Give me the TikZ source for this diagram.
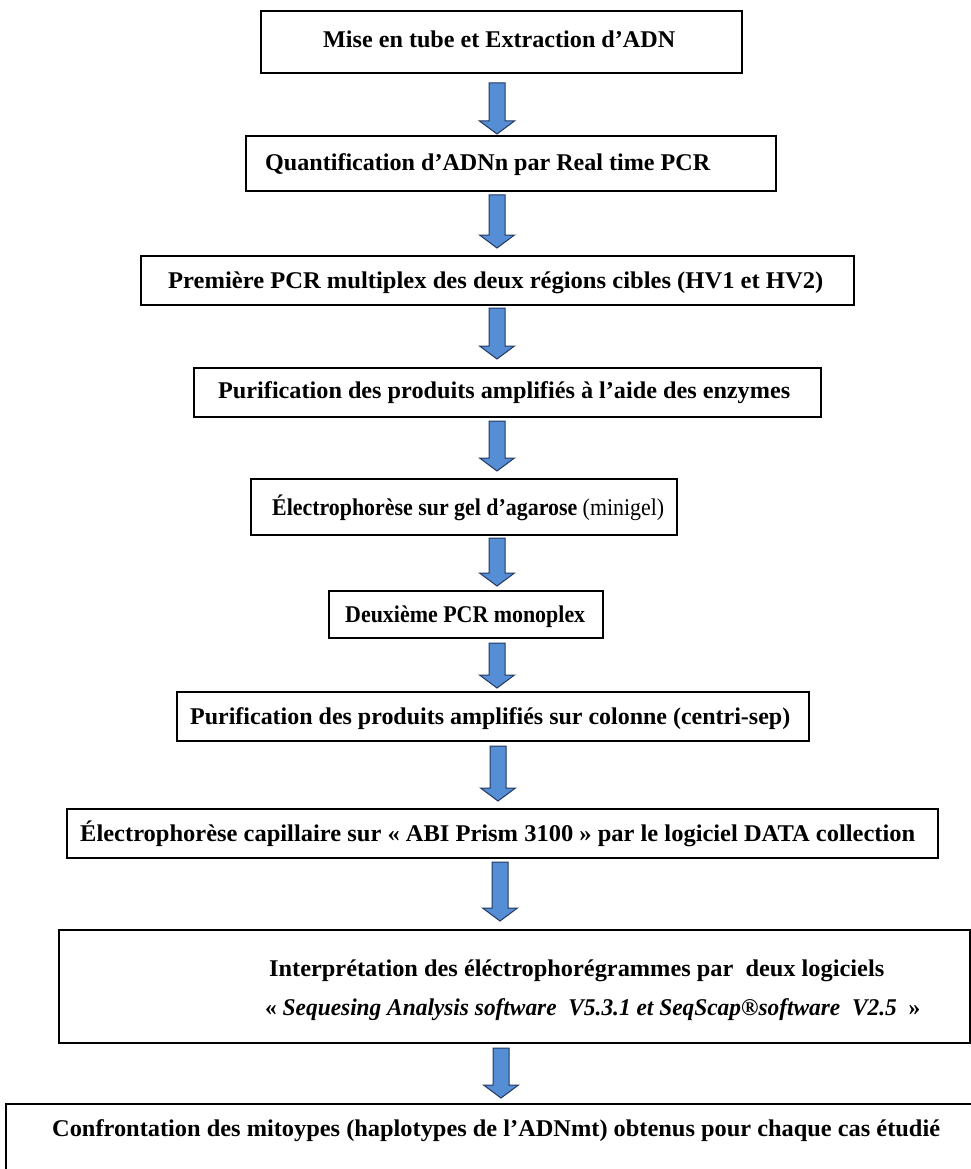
\documentclass[tikz,border=0pt]{standalone}
\usepackage{fontspec}
\setmainfont{Liberation Serif}
\usetikzlibrary{calc}
\definecolor{arrowblue}{RGB}{85,142,213}
\definecolor{arrowedge}{RGB}{35,55,95}
\newcommand{\fitw}[2]{\resizebox{#1pt}{\height}{#2}}
\newcommand{\blockarrow}[2]{%
  \path[barrowstyle] let \p1=(#1), \p2=(#2) in
    (\x1-8pt,\y1) -- (\x1+8pt,\y1) -- (\x1+8pt,\y2+13pt) -- (\x1+17.5pt,\y2+13pt)
    -- (\x1,\y2) -- (\x1-17.5pt,\y2+13pt) -- (\x1-8pt,\y2+13pt) -- cycle;}
\begin{document}
\begin{tikzpicture}[x=1pt,y=-1pt,
  stepbox/.style={draw=black, line width=1.6pt, anchor=north west, inner sep=0pt, fill=white},
  txt/.style={font=\bfseries\fontsize{24}{28}\selectfont, inner sep=0pt, anchor=base west},
  barrowstyle/.style={fill=arrowblue, draw=arrowedge, line width=1pt, line join=miter}]
\useasboundingbox[fill=white] (0,0) rectangle (971,1169);
\clip (0,0) rectangle (971,1169);

% boxes
\node[stepbox, minimum width=481pt, minimum height=62pt] (b1) at (260,10) {};
\node[stepbox, minimum width=530pt, minimum height=55pt] (b2) at (245,135) {};
\node[stepbox, minimum width=713pt, minimum height=49pt] (b3) at (140,255) {};
\node[stepbox, minimum width=627pt, minimum height=49pt] (b4) at (193,367) {};
\node[stepbox, minimum width=426pt, minimum height=56pt] (b5) at (250,478) {};
\node[stepbox, minimum width=274pt, minimum height=47pt] (b6) at (328,590) {};
\node[stepbox, minimum width=632pt, minimum height=49pt] (b7) at (176,691) {};
\node[stepbox, minimum width=871pt, minimum height=49pt] (b8) at (66,808) {};
\node[stepbox, minimum width=911pt, minimum height=113pt] (b9) at (58,929) {};
\node[stepbox, minimum width=990pt, minimum height=120pt] (b10) at (5,1103) {};

% texts
\node[txt] (t1) at (323,48) {\fitw{352}{Mise en tube et Extraction d’ADN}};
\node[txt] (t2) at (265,171) {\fitw{445}{Quantification d’ADNn par Real time PCR}};
\node[txt] (t3) at (168,288) {\fitw{655}{Première PCR multiplex des deux régions cibles (HV1 et HV2)}};
\node[txt] (t4) at (218,398) {\fitw{572}{Purification des produits amplifiés à l’aide des enzymes}};
\node[txt] (t5) at (272,515) {\fitw{392}{Électrophorèse sur gel d’agarose \textmd{(minigel)}}};
\node[txt] (t6) at (345,622) {\fitw{240}{Deuxième PCR monoplex}};
\node[txt] (t7) at (190,724) {\fitw{600}{Purification des produits amplifiés sur colonne (centri-sep)}};
\node[txt] (t8) at (80,841) {\fitw{835}{Électrophorèse capillaire sur « ABI Prism 3100 » par le logiciel DATA collection}};
\node[txt] (t9a) at (269,976) {\fitw{615}{Interprétation des éléctrophorégrammes par~ deux logiciels}};
\node[txt] (t9b) at (265,1015) {\fitw{655}{« \textit{Sequesing Analysis software~ V5.3.1 et SeqScap®software~ V2.5} ~»}};
\node[txt] (t10) at (52,1136) {\fitw{888}{Confrontation des mitoypes (haplotypes de l’ADNmt) obtenus pour chaque cas étudié}};

% arrow end points
\coordinate (a1s) at (497,83);   \coordinate (a1e) at (497,134);
\coordinate (a2s) at (497,195);  \coordinate (a2e) at (497,248);
\coordinate (a3s) at (497,308);  \coordinate (a3e) at (497,359);
\coordinate (a4s) at (497,421);  \coordinate (a4e) at (497,471);
\coordinate (a5s) at (497,538);  \coordinate (a5e) at (497,586);
\coordinate (a6s) at (497,643);  \coordinate (a6e) at (497,688);
\coordinate (a7s) at (498,746);  \coordinate (a7e) at (498,801);
\coordinate (a8s) at (500,862);  \coordinate (a8e) at (500,921);
\coordinate (a9s) at (501,1048); \coordinate (a9e) at (501,1098);

\blockarrow{a1s}{a1e}
\blockarrow{a2s}{a2e}
\blockarrow{a3s}{a3e}
\blockarrow{a4s}{a4e}
\blockarrow{a5s}{a5e}
\blockarrow{a6s}{a6e}
\blockarrow{a7s}{a7e}
\blockarrow{a8s}{a8e}
\blockarrow{a9s}{a9e}
\end{tikzpicture}
\end{document}
